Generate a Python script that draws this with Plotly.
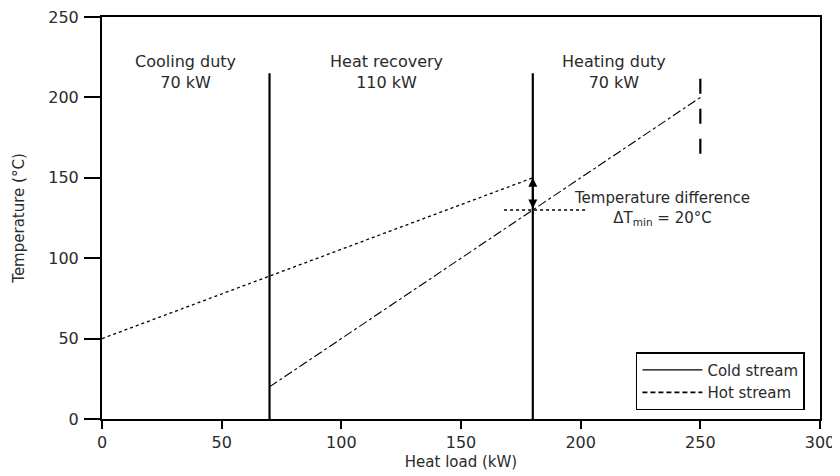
import plotly.graph_objects as go

# Data
hot_x = [0, 180]
hot_y = [50, 150]
cold_x = [70, 250]
cold_y = [20, 200]
divider_x = [70, 180]
divider_top = 215
heat_end_x = 250
heat_end_y = [165, 215]
dtmin_x = 180
dtmin_y = [130, 150]
pinch_line_x = [168, 202]
pinch_line_y = 130

region_labels = ["Cooling duty<br>70 kW", "Heat recovery<br>110 kW", "Heating duty<br>70 kW"]
region_label_x = [35, 119, 214]
region_label_y = 216

x_ticks = [0, 50, 100, 150, 200, 250, 300]
y_ticks = [0, 50, 100, 150, 200, 250]

FONT = "DejaVu Sans, Verdana, sans-serif"
TXT = "#2a2a2a"

fig = go.Figure()

# Visible curves
fig.add_trace(go.Scatter(x=hot_x, y=hot_y, mode="lines", showlegend=False,
                         line=dict(color="black", width=1.3, dash="dot")))
fig.add_trace(go.Scatter(x=cold_x, y=cold_y, mode="lines", showlegend=False,
                         line=dict(color="black", width=1.1, dash="dashdot")))

# Legend entries
fig.add_trace(go.Scatter(x=[None], y=[None], mode="lines", name="Cold stream",
                         line=dict(color="black", width=1.2)))
fig.add_trace(go.Scatter(x=[None], y=[None], mode="lines", name="Hot stream",
                         line=dict(color="black", width=1.8, dash="5px,3px")))

# Vertical dividers
for xv in divider_x:
    fig.add_trace(go.Scatter(x=[xv, xv], y=[0, divider_top], mode="lines", showlegend=False,
                             line=dict(color="black", width=2.2)))
fig.add_trace(go.Scatter(x=[heat_end_x, heat_end_x], y=heat_end_y, mode="lines", showlegend=False,
                         line=dict(color="black", width=2.2, dash="longdash")))

# Dotted horizontal at cold pinch temperature
fig.add_trace(go.Scatter(x=pinch_line_x, y=[pinch_line_y, pinch_line_y], mode="lines", showlegend=False,
                         line=dict(color="black", width=1.6, dash="dot")))

# Double arrow for ΔTmin
fig.add_annotation(x=dtmin_x, y=dtmin_y[1], ax=dtmin_x, ay=dtmin_y[0], xref="x", yref="y",
                   axref="x", ayref="y", showarrow=True, arrowhead=2, arrowsize=1,
                   arrowwidth=1.8, arrowside="end+start", arrowcolor="black", text="")

for t, xv in zip(region_labels, region_label_x):
    fig.add_annotation(x=xv, y=region_label_y, text=t, showarrow=False, xref="x", yref="y",
                       font=dict(family=FONT, size=16, color=TXT), align="center")

fig.add_annotation(x=234, y=131, text="Temperature difference<br>ΔT<sub>min</sub> = 20°C",
                   showarrow=False, xref="x", yref="y", align="center",
                   font=dict(family=FONT, size=15, color=TXT))

fig.update_layout(
    width=832, height=468,
    margin=dict(l=94, r=20, t=9, b=57),
    paper_bgcolor="white", plot_bgcolor="white",
    font=dict(family=FONT, size=15, color=TXT),
    legend=dict(x=0.979, y=0.022, xanchor="right", yanchor="bottom",
                bordercolor="black", borderwidth=1.5, bgcolor="white", itemwidth=60,
                font=dict(family=FONT, size=15, color=TXT), tracegroupgap=0),
    xaxis=dict(range=[0, 300], tickvals=x_ticks, showgrid=False, zeroline=False, automargin=False,
               showline=True, linecolor="black", linewidth=2, mirror=True,
               ticks="outside", ticklen=8, tickwidth=2, tickcolor="black",
               tickfont=dict(size=16), ticklabelstandoff=0, ticklabeloverflow="allow",
               title=dict(text="Heat load (kW)", font=dict(size=15), standoff=5)),
    yaxis=dict(range=[0, 250.02], tickvals=y_ticks, showgrid=False, zeroline=False, automargin=False,
               showline=True, linecolor="black", linewidth=2, mirror=True,
               ticks="outside", ticklen=16, tickwidth=2, tickcolor="black",
               tickfont=dict(size=16), ticklabelstandoff=2, ticklabeloverflow="allow",
               title=dict(text="Temperature (°C)", font=dict(size=15), standoff=20)),
)

fig.write_html("out.html")
